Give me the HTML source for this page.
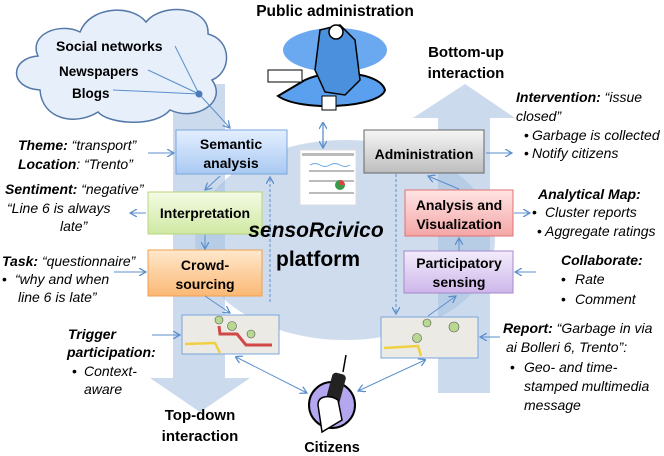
<!DOCTYPE html>
<html><head><meta charset="utf-8"><style>
body{margin:0;background:#fff}
svg{display:block;font-family:"Liberation Sans",sans-serif}
.b{font-weight:bold}
.i{font-style:italic}
</style></head><body>
<svg width="664" height="456" viewBox="0 0 664 456" xmlns="http://www.w3.org/2000/svg">
<defs>
<marker id="a" markerWidth="8" markerHeight="8" refX="7" refY="4" orient="auto" markerUnits="userSpaceOnUse"><path d="M0,0 L7,4 L0,8" fill="none" stroke="#5b8fcc" stroke-width="1.3"/></marker>
<marker id="s" markerWidth="8" markerHeight="8" refX="1" refY="4" orient="auto" markerUnits="userSpaceOnUse"><path d="M7,0 L0,4 L7,8" fill="none" stroke="#5b8fcc" stroke-width="1.3"/></marker>
<linearGradient id="gb" x1="0" y1="0" x2="0" y2="1"><stop offset="0" stop-color="#e4efff"/><stop offset="1" stop-color="#a9c9f2"/></linearGradient>
<linearGradient id="gg" x1="0" y1="0" x2="0" y2="1"><stop offset="0" stop-color="#f4fbe3"/><stop offset="1" stop-color="#cfe8a3"/></linearGradient>
<linearGradient id="go" x1="0" y1="0" x2="0" y2="1"><stop offset="0" stop-color="#ffe8cc"/><stop offset="1" stop-color="#fbb874"/></linearGradient>
<linearGradient id="gy" x1="0" y1="0" x2="0" y2="1"><stop offset="0" stop-color="#f6f6f6"/><stop offset="1" stop-color="#bdbdbd"/></linearGradient>
<linearGradient id="gr" x1="0" y1="0" x2="0" y2="1"><stop offset="0" stop-color="#ffe4e4"/><stop offset="1" stop-color="#f4a6a6"/></linearGradient>
<linearGradient id="gp" x1="0" y1="0" x2="0" y2="1"><stop offset="0" stop-color="#f3ecfb"/><stop offset="1" stop-color="#cdb6ea"/></linearGradient>
</defs>

<ellipse cx="345" cy="240" rx="150" ry="100" fill="#c6d6ea" opacity="0.85"/>
<g fill="#a9c2e0" opacity="0.6">
<rect x="173" y="84" width="52" height="294"/>
<polygon points="150,378 250,378 200,412"/>
</g>
<g fill="#a9c2e0" opacity="0.6">
<rect x="438" y="118" width="52" height="275"/>
<polygon points="413,118 515,118 465,84"/>
</g>

<path d="M40,90 C8,88 10,58 38,56 C28,34 60,22 80,32 C90,6 132,4 146,22 C162,2 210,6 208,34 C232,40 232,72 212,80 C228,102 196,122 170,110 C155,128 108,124 98,112 C76,126 42,120 40,90 Z" fill="#e6effa" stroke="#5478a8" stroke-width="1.5"/>
<text x="56" y="51" font-size="14" class="b">Social networks</text>
<text x="59" y="76" font-size="13.5" class="b">Newspapers</text>
<text x="72" y="98" font-size="13.5" class="b">Blogs</text>
<g stroke="#5b8fcc" stroke-width="1" fill="none">
<line x1="175" y1="46" x2="199" y2="94"/>
<line x1="148" y1="70" x2="199" y2="94"/>
<line x1="113" y1="90" x2="199" y2="94"/>
<line x1="199" y1="94" x2="230" y2="128" marker-end="url(#a)"/>
</g>
<circle cx="199" cy="94" r="3.5" fill="#4a7ab8"/>

<text x="335" y="16" font-size="15.5" class="b" text-anchor="middle">Public administration</text>
<ellipse cx="335" cy="50" rx="52" ry="22" fill="#6aa8f0"/>
<path d="M305,80 C330,68 380,72 385,90 C380,108 300,112 278,96 Z" fill="#5aa0ee" stroke="#000" stroke-width="2"/>
<path d="M320,30 L340,25 L355,40 L360,80 L345,95 L325,92 L315,70 Z" fill="#4a90dc" stroke="#000" stroke-width="1.5"/>
<circle cx="336" cy="32" r="7" fill="#fff" stroke="#000" stroke-width="1.5"/>
<rect x="268" y="70" width="34" height="12" fill="#fff" stroke="#000"/>
<rect x="322" y="96" width="14" height="14" fill="#fff" stroke="#000"/>
<line x1="323" y1="123" x2="323" y2="148" stroke="#5b8fcc" stroke-width="1.3" marker-start="url(#s)" marker-end="url(#a)"/>

<rect x="300" y="150" width="56" height="55" fill="#fff" stroke="#ddd"/>
<g fill="#bbb"><rect x="302" y="153" width="52" height="3"/><rect x="309" y="170" width="45" height="2"/><rect x="309" y="180" width="45" height="2"/><rect x="309" y="192" width="45" height="2"/></g>
<circle cx="340" cy="185" r="5" fill="#3a9a4a"/><path d="M340,185 L340,180 A5,5 0 0 1 345,185 Z" fill="#e04040"/>
<path d="M310,165 q5,-3 10,0 t10,0 t10,0 t10,0" stroke="#6aa8e0" fill="none"/>

<rect x="176" y="130" width="111" height="44" fill="url(#gb)" stroke="#7aa6dc"/>
<text x="231" y="149" font-size="14" class="b" text-anchor="middle">Semantic</text>
<text x="231" y="168" font-size="14" class="b" text-anchor="middle">analysis</text>

<rect x="148" y="192" width="114" height="42" fill="url(#gg)" stroke="#b8d67a"/>
<text x="205" y="218" font-size="14" class="b" text-anchor="middle">Interpretation</text>

<rect x="148" y="250" width="114" height="46" fill="url(#go)" stroke="#f0a050"/>
<text x="205" y="270" font-size="14" class="b" text-anchor="middle">Crowd-</text>
<text x="205" y="289" font-size="14" class="b" text-anchor="middle">sourcing</text>

<rect x="364" y="130" width="120" height="43" fill="url(#gy)" stroke="#666"/>
<text x="424" y="159" font-size="14" class="b" text-anchor="middle">Administration</text>

<rect x="405" y="190" width="108" height="46" fill="url(#gr)" stroke="#e07070"/>
<text x="459" y="210" font-size="14" class="b" text-anchor="middle">Analysis and</text>
<text x="459" y="229" font-size="14" class="b" text-anchor="middle">Visualization</text>

<rect x="404" y="251" width="109" height="42" fill="url(#gp)" stroke="#a488cc"/>
<text x="459" y="268" font-size="14" class="b" text-anchor="middle">Participatory</text>
<text x="459" y="287" font-size="14" class="b" text-anchor="middle">sensing</text>

<text x="316" y="237" font-size="21" class="b i" text-anchor="middle">sensoRcivico</text>
<text x="318" y="266" font-size="21" class="b" text-anchor="middle">platform</text>

<g>
<rect x="182" y="315" width="97" height="39" fill="#eceae4" stroke="#7aa6dc"/>
<path d="M185,344 L215,343 L220,353" stroke="#f0d040" stroke-width="2.5" fill="none"/>
<path d="M219,326 L220,334 L237,334 L246,345 L272,345" stroke="#d04848" stroke-width="3" fill="none"/>
<circle cx="219" cy="320" r="4" fill="#b8d890" stroke="#555" stroke-width="0.6"/>
<circle cx="232" cy="326" r="4.5" fill="#b8d890" stroke="#555" stroke-width="0.6"/>
<circle cx="251" cy="334" r="4" fill="#b8d890" stroke="#555" stroke-width="0.6"/>
</g>
<g>
<rect x="381" y="317" width="97" height="41" fill="#eceae4" stroke="#7aa6dc"/>
<path d="M384,348 L418,346 L421,356" stroke="#f0d040" stroke-width="2.5" fill="none"/>
<circle cx="427" cy="323" r="4" fill="#b8d890" stroke="#555" stroke-width="0.6"/>
<circle cx="454" cy="327" r="5" fill="#b8d890" stroke="#555" stroke-width="0.6"/>
<circle cx="417" cy="338" r="4.5" fill="#b8d890" stroke="#555" stroke-width="0.6"/>
</g>

<circle cx="332" cy="405" r="23" fill="#b5a6f0" stroke="#000" stroke-width="2"/>
<rect x="328" y="373" width="14" height="38" rx="4" fill="#222" transform="rotate(15 335 392)"/>
<line x1="343" y1="372" x2="346" y2="355" stroke="#000" stroke-width="1.5"/>
<path d="M318,405 C318,395 330,395 338,400 L342,420 L322,432 Z" fill="#fff" stroke="#000" stroke-width="1.5"/>
<text x="332" y="452" font-size="14.5" class="b" text-anchor="middle">Citizens</text>

<g stroke="#5b8fcc" stroke-width="1" fill="none">
<line x1="148" y1="153" x2="174" y2="153" marker-end="url(#a)"/>
<line x1="220" y1="176" x2="205" y2="190" marker-end="url(#a)"/>
<line x1="146" y1="213" x2="130" y2="213" marker-end="url(#a)"/>
<line x1="205" y1="235" x2="205" y2="249" marker-end="url(#a)"/>
<line x1="114" y1="272" x2="146" y2="272" marker-end="url(#a)"/>
<line x1="205" y1="296" x2="230" y2="313" marker-end="url(#a)"/>
<line x1="152" y1="335" x2="180" y2="335" marker-end="url(#a)"/>
<line x1="270" y1="302" x2="270" y2="177" stroke-dasharray="3,2" marker-end="url(#a)"/>
<line x1="396" y1="174" x2="396" y2="314" stroke-dasharray="3,2" marker-end="url(#a)"/>
<line x1="486" y1="153" x2="512" y2="153" marker-end="url(#a)"/>
<line x1="459" y1="189" x2="428" y2="176" marker-end="url(#a)"/>
<line x1="514" y1="213" x2="530" y2="213" marker-end="url(#a)"/>
<line x1="459" y1="251" x2="459" y2="238" marker-end="url(#a)"/>
<line x1="536" y1="272" x2="515" y2="272" marker-end="url(#a)"/>
<line x1="428" y1="316" x2="456" y2="296" marker-end="url(#a)"/>
<line x1="500" y1="337" x2="480" y2="337" marker-end="url(#a)"/>
<line x1="236" y1="357" x2="307" y2="393" marker-start="url(#s)" marker-end="url(#a)"/>
<line x1="425" y1="360" x2="358" y2="391" marker-start="url(#s)" marker-end="url(#a)"/>
</g>

<g font-size="14">
<text x="18" y="150" class="i"><tspan class="b">Theme:</tspan> “transport”</text>
<text x="18" y="169" class="i"><tspan class="b">Location</tspan>: “Trento”</text>
<text x="5" y="194" class="i"><tspan class="b">Sentiment:</tspan> “negative”</text>
<text x="7" y="213" class="i">“Line 6 is always</text>
<text x="60" y="231" class="i">late”</text>
<text x="2" y="266" class="i"><tspan class="b">Task:</tspan> “questionnaire”</text>
<text x="2" y="284">•</text><text x="15" y="284" class="i">“why and when</text>
<text x="18" y="302" class="i">line 6 is late”</text>
<text x="68" y="339" class="b i">Trigger</text>
<text x="67" y="357" class="b i">participation:</text>
<text x="72" y="376">•</text><text x="84" y="376" class="i">Context-</text>
<text x="84" y="394" class="i">aware</text>
</g>
<text x="200" y="420" font-size="15" class="b" text-anchor="middle">Top-down</text>
<text x="200" y="441" font-size="15" class="b" text-anchor="middle">interaction</text>
<text x="466" y="57" font-size="15" class="b" text-anchor="middle">Bottom-up</text>
<text x="466" y="78" font-size="15" class="b" text-anchor="middle">interaction</text>

<g font-size="14">
<text x="516" y="102" class="i"><tspan class="b">Intervention:</tspan> “issue</text>
<text x="516" y="121" class="i">closed”</text>
<text x="524" y="140">•</text><text x="532" y="140" class="i">Garbage is collected</text>
<text x="524" y="158">•</text><text x="532" y="158" class="i">Notify  citizens</text>
<text x="538" y="199" class="b i">Analytical Map:</text>
<text x="532" y="217">•</text><text x="545" y="217" class="i">Cluster reports</text>
<text x="537" y="236">•</text><text x="545" y="236" class="i">Aggregate ratings</text>
<text x="561" y="265" class="b i">Collaborate:</text>
<text x="561" y="284">•</text><text x="575" y="284" class="i">Rate</text>
<text x="561" y="304">•</text><text x="575" y="304" class="i">Comment</text>
<text x="503" y="333" class="i"><tspan class="b">Report:</tspan> “Garbage in via</text>
<text x="506" y="352" class="i">ai Bolleri 6, Trento”:</text>
<text x="510" y="372">•</text><text x="524" y="372" class="i">Geo- and time-</text>
<text x="524" y="391" class="i">stamped multimedia</text>
<text x="524" y="410" class="i">message</text>
</g>
</svg>
</body></html>
